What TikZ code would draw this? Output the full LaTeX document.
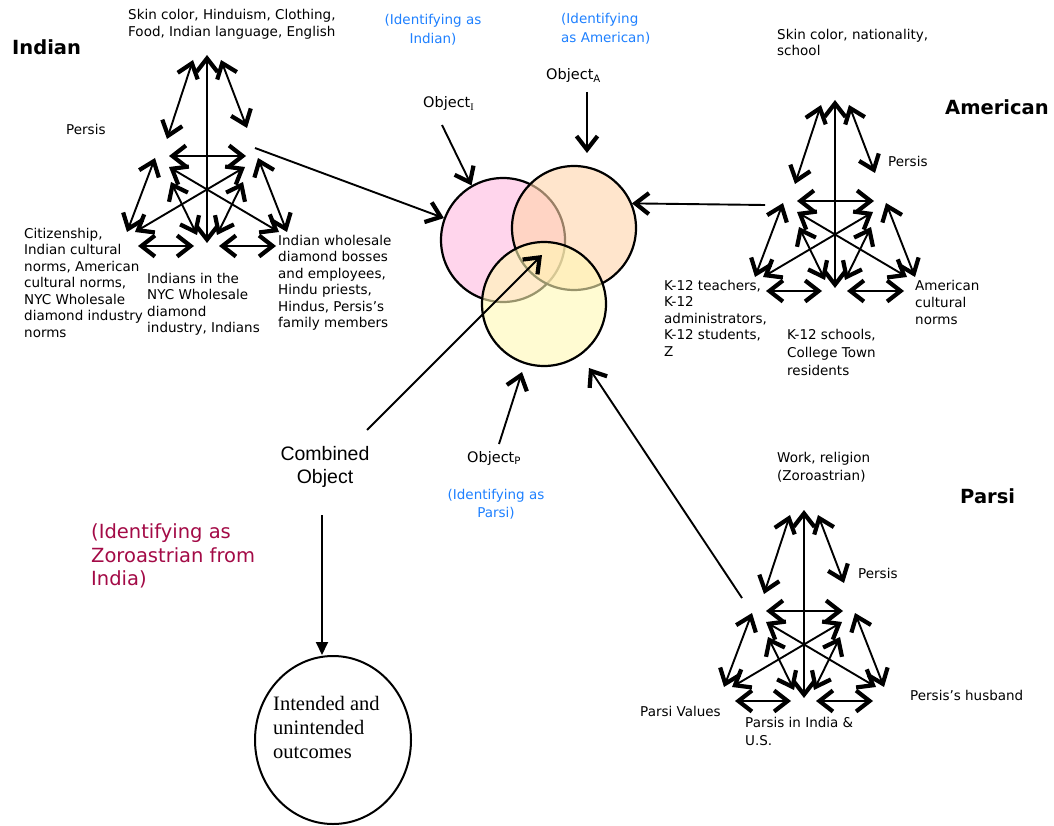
\documentclass[tikz,border=0pt]{standalone}
\usepackage{fontspec}
\setmainfont{DejaVu Sans}
\newfontfamily\arialfont{Liberation Sans}
\newfontfamily\timesfont{Liberation Serif}
\usetikzlibrary{arrows.meta,shapes.geometric}

\definecolor{idblue}{RGB}{30,128,255}
\definecolor{crimsontext}{RGB}{163,10,70}
\definecolor{pinkfill}{RGB}{255,185,223}
\definecolor{orangefill}{RGB}{255,212,170}
\definecolor{yellowfill}{RGB}{255,248,180}

\tikzset{
  barb/.tip={Straight Barb[length=13.5pt,width=21pt,line width=4.2pt]},
  dbl/.style={line width=1.9pt,{barb}-{barb}},
  conn/.style={line width=1.9pt,-{barb}},
  tri/.style={line width=1.9pt,-{Triangle[length=13pt,width=12pt]}},
  lbl/.style={font=\fontsize{13.5}{16.5}\selectfont,align=left,inner sep=0pt,anchor=north west},
  head/.style={font=\fontsize{19.5}{23}\selectfont\bfseries,inner sep=0pt,anchor=base west},
  idtext/.style={text=idblue,font=\fontsize{13.5}{19}\selectfont,align=center,inner sep=0pt,anchor=north},
  objlbl/.style={font=\fontsize{14.5}{16}\selectfont,inner sep=0pt,anchor=base west},
  venn/.style={circle,draw,line width=2.2pt,minimum size=124pt,inner sep=0pt,outer sep=1pt,fill opacity=0.6},
  % activity-system triangle, apex at the pic origin
  actsys/.pic={
    \coordinate (-ts1) at (-14,5);   \coordinate (-ts2) at (-40,84);
    \coordinate (-to1) at (14,5);    \coordinate (-to2) at (40,73);
    \coordinate (-tc1) at (0,0);     \coordinate (-tc2) at (0,188);
    \coordinate (-so1) at (-38,101); \coordinate (-so2) at (39,101);
    \coordinate (-sr1) at (-52,103); \coordinate (-sr2) at (-80,177);
    \coordinate (-od1) at (51,103);  \coordinate (-od2) at (80,177);
    \coordinate (-sd1) at (-38,112); \coordinate (-sd2) at (72,177);
    \coordinate (-or1) at (38,112);  \coordinate (-or2) at (-72,177);
    \coordinate (-sc1) at (-36,127); \coordinate (-sc2) at (-10,180);
    \coordinate (-oc1) at (36,127);  \coordinate (-oc2) at (10,180);
    \coordinate (-rc1) at (-69,191); \coordinate (-rc2) at (-13,191);
    \coordinate (-cd1) at (12,191);  \coordinate (-cd2) at (69,191);
    \foreach \e in {ts,to,tc,so,sr,od,sd,or,sc,oc,rc,cd}
      \draw[dbl] (-\e1) -- (-\e2);
  }
}

\begin{document}
\begin{tikzpicture}[x=1pt,y=-1pt]
\useasboundingbox (0,0) rectangle (1054,826);

% ---- the three activity systems ----
\pic (ind) at (207,55) {actsys};
\pic (ame) at (835,100) {actsys};
\pic (par) at (804,510) {actsys};

% ---- overlapping objects ----
\node[venn,fill=pinkfill]   (pink)   at (503,240) {};
\node[venn,fill=orangefill] (orange) at (574,228) {};
\node[venn,fill=yellowfill] (yellow) at (544,304) {};

% ---- Indian labels ----
\node[lbl,font=\fontsize{13.5}{17}\selectfont] (ind-tool) at (128,9) {Skin color, Hinduism, Clothing,\\Food, Indian language, English};
\node[head] (ind-head) at (12,55) {Indian};
\node[lbl] (ind-subj) at (66,124) {Persis};
\node[lbl] (ind-rules) at (24,228) {Citizenship,\\Indian cultural\\norms, American\\cultural norms,\\NYC Wholesale\\diamond industry\\norms};
\node[lbl] (ind-comm) at (147,273) {Indians in the\\NYC Wholesale\\diamond\\industry, Indians};
\node[lbl] (ind-div) at (278,235) {Indian wholesale\\diamond bosses\\and employees,\\Hindu priests,\\Hindus, Persis’s\\family members};

% ---- American labels ----
\node[lbl,font=\fontsize{13.5}{16}\selectfont] (ame-tool) at (777,29) {Skin color, nationality,\\school};
\node[head] (ame-head) at (945,115) {American};
\node[lbl] (ame-subj) at (888,156) {Persis};
\node[lbl] (ame-rules) at (664,280) {K-12 teachers,\\K-12\\administrators,\\K-12 students,\\Z};
\node[lbl,font=\fontsize{13.5}{18}\selectfont] (ame-comm) at (787,329) {K-12 schools,\\College Town\\residents};
\node[lbl,font=\fontsize{13.5}{17}\selectfont] (ame-div) at (915,280) {American\\cultural\\norms};

% ---- Parsi labels ----
\node[lbl,font=\fontsize{13.5}{18}\selectfont] (par-tool) at (777,452) {Work, religion\\(Zoroastrian)};
\node[head] (par-head) at (960,503) {Parsi};
\node[lbl] (par-subj) at (858,568) {Persis};
\node[lbl] (par-rules) at (640,706) {Parsi Values};
\node[lbl,font=\fontsize{13.5}{18}\selectfont] (par-comm) at (745,717) {Parsis in India \&\\U.S.};
\node[lbl] (par-div) at (910,690) {Persis’s husband};

% ---- identification captions ----
\node[idtext] (id-ind) at (433,14) {(Identifying as\\Indian)};
\node[idtext,align=left,anchor=north west] (id-ame) at (561,13) {(Identifying\\as American)};
\node[idtext,font=\fontsize{13.5}{18}\selectfont] (id-par) at (496,489) {(Identifying as\\Parsi)};
\node[text=crimsontext,font=\fontsize{19.5}{23.5}\selectfont,align=left,inner sep=0pt,anchor=north west] (id-zor) at (91,523.5) {(Identifying as\\Zoroastrian from\\India)};

% ---- object labels ----
\node[objlbl] (objI) at (423,108) {Object\textsubscript{\timesfont I}};
\node[objlbl] (objA) at (546,80) {Object\textsubscript{A}};
\node[objlbl] (objP) at (467,462) {Object\textsubscript{P}};

\coordinate (objI-from) at (442,125);
\coordinate (objA-from) at (587,92);
\coordinate (objA-tip)  at (587,153);
\coordinate (objP-from) at (499,444);
\coordinate (objP-tip)  at (522,372);
\draw[conn] (objI-from) -- (pink.120);
\draw[conn] (objA-from) -- (objA-tip);
\draw[conn] (objP-from) -- (objP-tip);

% ---- links from each system to its object ----
\coordinate (ind-out) at (255,148);
\coordinate (ame-out) at (765,205);
\coordinate (par-out) at (742,598);
\coordinate (par-tip) at (589,368);
\draw[conn] (ind-out) -- (pink);
\draw[conn] (ame-out) -- (orange.23);
\draw[conn] (par-out) -- (par-tip);

% ---- combined object and outcomes ----
\node[font=\arialfont\fontsize{19.5}{23}\selectfont,align=center,inner sep=0pt,anchor=north] (comb) at (325,446.5) {Combined\\Object};
\coordinate (comb-out) at (367,430);
\coordinate (comb-tip) at (542,255);
\draw[conn] (comb-out) -- (comb-tip);

\node[ellipse,draw,line width=2pt,minimum width=156pt,minimum height=168pt,inner sep=0pt] (out) at (333,740) {};
\node[font=\timesfont\fontsize{20.5}{24}\selectfont,align=left,inner sep=0pt,anchor=north west] (out-text) at (273,696) {Intended and\\unintended\\outcomes};
\coordinate (comb-down) at (322,515);
\draw[tri] (comb-down) -- (comb-down |- out.north);
\end{tikzpicture}
\end{document}
